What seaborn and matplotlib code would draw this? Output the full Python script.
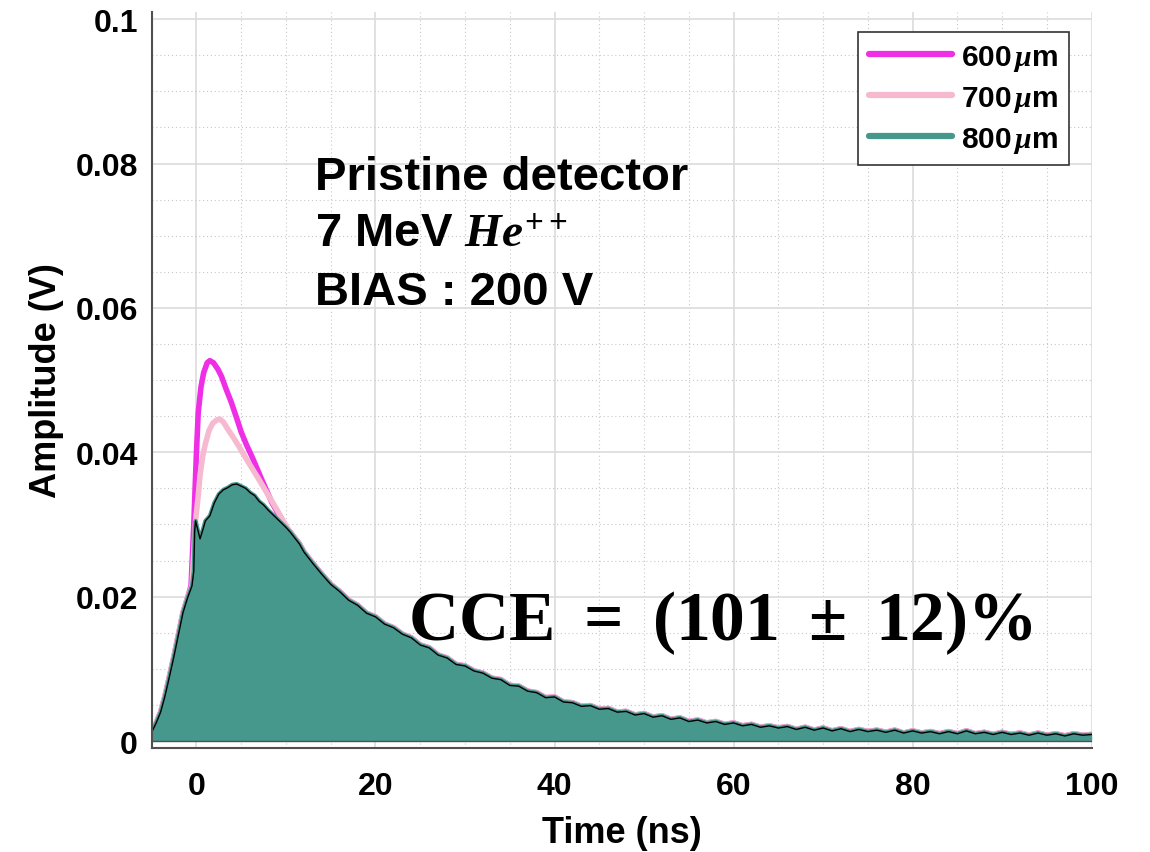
import matplotlib
matplotlib.use('Agg')
import matplotlib.pyplot as plt
from matplotlib.ticker import MultipleLocator
import pandas as pd
import seaborn as sns

# 800 um pulse: rise and peak (time in ns, amplitude in V)
t800_head = [-5.0, -4.5, -4.0, -3.5, -3.0, -2.5, -2.0, -1.5, -1.0, -0.5, -0.3, -0.2, -0.1,
             0.2, 0.4, 0.7, 1.0, 1.5, 2.0, 2.5, 3.0, 3.5, 4.0, 4.5, 5.0, 5.5, 6.0, 6.5,
             7.0, 7.5, 8.0, 8.5, 9.0, 9.5, 10.0, 10.5, 11.0, 11.5, 12.0]
a800_head = [0.0012, 0.0025, 0.0040, 0.0063, 0.0090, 0.0118, 0.0148, 0.0178, 0.0198, 0.0215,
             0.0235, 0.0290, 0.0305, 0.0290, 0.0280, 0.0292, 0.0305, 0.0312, 0.0330, 0.0342,
             0.0348, 0.0351, 0.0355, 0.0356, 0.0353, 0.0350, 0.0344, 0.0340, 0.0332, 0.0327,
             0.0320, 0.0314, 0.0308, 0.0302, 0.0296, 0.0289, 0.0281, 0.0273, 0.0262]
# 800 um pulse: tail, one sample per ns from 13 to 100
t800_tail = list(range(13, 101))
a800_tail = [0.0246, 0.0231, 0.0217, 0.0207, 0.0195, 0.0188, 0.0177, 0.0172, 0.0162, 0.0157,
             0.0148, 0.0143, 0.0133, 0.0129, 0.0119, 0.0115, 0.0106, 0.0104, 0.0097, 0.0094,
             0.0087, 0.0085, 0.0077, 0.0076, 0.0069, 0.0067, 0.0060, 0.0061, 0.0054, 0.0053,
             0.0048, 0.0049, 0.0044, 0.0045, 0.0040, 0.0041, 0.0036, 0.0038, 0.0033, 0.0035,
             0.0030, 0.0032, 0.0027, 0.0029, 0.0025, 0.0027, 0.0023, 0.0025, 0.0021, 0.0023,
             0.0019, 0.0021, 0.0018, 0.0020, 0.0016, 0.0019, 0.0015, 0.0018, 0.0014, 0.0017,
             0.0013, 0.0016, 0.0013, 0.0015, 0.0012, 0.0015, 0.0011, 0.0014, 0.0011, 0.0013,
             0.0010, 0.0013, 0.0010, 0.0014, 0.0010, 0.0012, 0.0009, 0.0012, 0.0009, 0.0011,
             0.0008, 0.0011, 0.0008, 0.0010, 0.0007, 0.0010, 0.0008, 0.0009]

# 600 um and 700 um differ only around the peak, elsewhere they sit on the 800 um trace
t600_peak = [-0.6, -0.3, 0.0, 0.2, 0.5, 0.8, 1.2, 1.5, 1.9, 2.4, 2.8, 3.3, 3.9, 4.5, 5.0,
             5.6, 6.2, 7.3, 8.4, 9.9]
a600_peak = [0.0215, 0.0300, 0.0400, 0.0455, 0.0490, 0.0510, 0.0524, 0.0527, 0.0524, 0.0515,
             0.0505, 0.0488, 0.0469, 0.0447, 0.0428, 0.0410, 0.0394, 0.0362, 0.0331, 0.0298]
t700_peak = [-0.3, -0.1, 0.2, 0.4, 0.7, 1.0, 1.4, 1.8, 2.3, 2.6, 3.0, 3.5, 4.1, 4.7, 5.8,
             6.9, 8.0, 9.1, 10.2]
a700_peak = [0.0260, 0.0305, 0.0340, 0.0368, 0.0395, 0.0412, 0.0430, 0.0440, 0.0445, 0.0446,
             0.0442, 0.0432, 0.0421, 0.0409, 0.0386, 0.0364, 0.0341, 0.0318, 0.0294]

labels = [r'600$\,\mu$m', r'700$\,\mu$m', r'800$\,\mu$m']
colors = ['#EE2FE6', '#F7B9CF', '#46978C']

x_ticks = [0, 20, 40, 60, 80, 100]
y_ticks = [0, 0.02, 0.04, 0.06, 0.08, 0.1]
y_ticklabels = ['0', '0.02', '0.04', '0.06', '0.08', '0.1']

t800 = t800_head + t800_tail
a800 = a800_head + a800_tail


def splice(t_peak, a_peak):
    before = [(t, a) for t, a in zip(t800, a800) if t < t_peak[0]]
    after = [(t, a) for t, a in zip(t800, a800) if t > t_peak[-1] + 0.4]
    pts = before + list(zip(t_peak, a_peak)) + after
    return pd.DataFrame(pts, columns=['time', 'amp'])


df600 = splice(t600_peak, a600_peak)
df700 = splice(t700_peak, a700_peak)
df800 = pd.DataFrame({'time': t800, 'amp': a800})

sns.set_style('white')
plt.rcParams['font.family'] = ['Liberation Sans', 'DejaVu Sans']
plt.rcParams['font.weight'] = 'bold'
plt.rcParams['axes.labelweight'] = 'bold'
plt.rcParams['text.color'] = 'black'
plt.rcParams['axes.labelcolor'] = 'black'
plt.rcParams['xtick.color'] = 'black'
plt.rcParams['ytick.color'] = 'black'
plt.rcParams['mathtext.fontset'] = 'custom'
plt.rcParams['mathtext.rm'] = 'Liberation Serif'
plt.rcParams['mathtext.it'] = 'Liberation Serif:italic'
plt.rcParams['mathtext.bf'] = 'Liberation Serif:bold'

fig = plt.figure(figsize=(11.5, 8.53), dpi=100)
ax = fig.add_axes([0.1319, 0.1225, 0.8174, 0.8623])

sns.lineplot(data=df600, x='time', y='amp', color=colors[0], linewidth=4, label=labels[0],
             estimator=None, sort=False, ax=ax, zorder=2)
sns.lineplot(data=df700, x='time', y='amp', color=colors[1], linewidth=4, label=labels[1],
             estimator=None, sort=False, ax=ax, zorder=2.1)
sns.lineplot(data=df800, x='time', y='amp', color=colors[2], linewidth=3, label=labels[2],
             estimator=None, sort=False, ax=ax, zorder=2.2)
ax.fill_between(df800['time'], 0, df800['amp'], color=colors[2], linewidth=0, zorder=2.3)
ax.plot(df800['time'], df800['amp'], color='black', linewidth=1, zorder=2.4)
ax.axhline(0, color='#505050', linewidth=1, zorder=5)

ax.set_xlim(-5, 100)
ax.set_ylim(-0.0009, 0.101)
ax.set_xticks(x_ticks)
ax.set_yticks(y_ticks)
ax.set_yticklabels(y_ticklabels)
ax.xaxis.set_minor_locator(MultipleLocator(5))
ax.yaxis.set_minor_locator(MultipleLocator(0.005))
ax.grid(which='major', color='#DCDCDC', linewidth=1.2, linestyle='-')
ax.grid(which='minor', color='#C8C8C8', linewidth=0.8, linestyle=(0, (1, 2.5)))
ax.set_axisbelow(True)

ax.tick_params(axis='both', which='major', direction='in', labelsize=23, color='#404040',
               labelcolor='black', width=1.5)
ax.tick_params(axis='x', which='major', length=4.5, pad=17)
ax.tick_params(axis='y', which='major', length=7, pad=10)
ax.tick_params(which='minor', length=0)
for side in ['top', 'right']:
    ax.spines[side].set_visible(False)
for side in ['left', 'bottom']:
    ax.spines[side].set_color('#505050')
    ax.spines[side].set_linewidth(1.5)

ax.set_xlabel('Time (ns)', fontsize=26, labelpad=10, color='black')
ax.set_ylabel('Amplitude (V)', fontsize=26, labelpad=8, color='black')

handles, labs = ax.get_legend_handles_labels()
leg = ax.legend(handles[:3], labs[:3], loc='upper right', bbox_to_anchor=(0.976, 0.973),
                borderaxespad=0, fontsize=21.5, handlelength=2.8, handletextpad=0.3,
                labelspacing=0.37, borderpad=0.36, fancybox=False, framealpha=1,
                edgecolor='#333333')
leg.get_frame().set_linewidth(1.2)
for line in leg.get_lines():
    line.set_linewidth(4.5)
for txt in leg.get_texts():
    txt.set_color('black')

ax.text(13.2, 0.0765, 'Pristine detector', fontsize=34, fontweight='bold', va='baseline',
        color='black')
ax.text(13.2, 0.0686, r'7 MeV $He^{++}$', fontsize=34, fontweight='bold', va='baseline',
        color='black')
ax.text(13.2, 0.0605, 'BIAS : 200 V', fontsize=34, fontweight='bold', va='baseline',
        color='black')
ax.text(23.6, 0.0141, r'$\mathbf{CCE}\ =\ (\mathbf{101}\ \pm\ \mathbf{12})\%$', fontsize=50,
        va='baseline', color='black')

fig.savefig('out.png', dpi=100)
plt.close(fig)
